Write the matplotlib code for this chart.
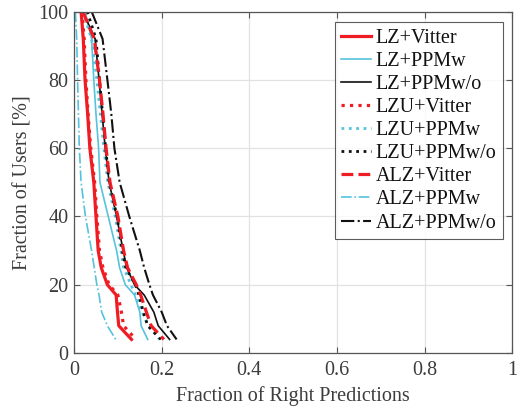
import matplotlib
matplotlib.use("Agg")
import matplotlib.pyplot as plt

plt.rcParams['font.family'] = ['Liberation Serif', 'DejaVu Serif']

# Fraction of users (%) at which each curve is sampled
users_pct = [100, 92, 80, 70, 60, 50, 40, 30, 25, 20, 17, 12, 8, 4]

# Fraction of right predictions for each scheme
lz_vitter = [0.016, 0.021, 0.025, 0.031, 0.036, 0.045, 0.050, 0.055, 0.062, 0.076, 0.096, 0.099, 0.102, 0.131]
lz_ppmw = [0.025, 0.040, 0.045, 0.050, 0.056, 0.059, 0.078, 0.097, 0.104, 0.117, 0.138, 0.150, 0.153, 0.168]
lz_ppmwo = [0.020, 0.048, 0.057, 0.064, 0.071, 0.080, 0.097, 0.112, 0.120, 0.138, 0.160, 0.182, 0.192, 0.218]
lzu_vitter = [0.018, 0.023, 0.027, 0.032, 0.038, 0.047, 0.052, 0.058, 0.066, 0.080, 0.100, 0.108, 0.113, 0.141]
lzu_ppmw = [0.020, 0.040, 0.052, 0.060, 0.068, 0.077, 0.094, 0.107, 0.113, 0.130, 0.140, 0.155, 0.170, 0.195]
lzu_ppmwo = [0.030, 0.050, 0.058, 0.065, 0.072, 0.080, 0.098, 0.110, 0.118, 0.140, 0.148, 0.158, 0.168, 0.198]
alz_vitter = [0.020, 0.046, 0.058, 0.066, 0.073, 0.082, 0.100, 0.113, 0.122, 0.142, 0.152, 0.165, 0.176, 0.205]
alz_ppmw = [0.003, 0.006, 0.008, 0.010, 0.012, 0.016, 0.026, 0.040, 0.046, 0.052, 0.057, 0.063, 0.076, 0.095]
alz_ppmwo = [0.040, 0.065, 0.076, 0.085, 0.092, 0.104, 0.126, 0.150, 0.160, 0.172, 0.180, 0.200, 0.212, 0.234]

labels = ['LZ+Vitter', 'LZ+PPMw', 'LZ+PPMw/o',
          'LZU+Vitter', 'LZU+PPMw', 'LZU+PPMw/o',
          'ALZ+Vitter', 'ALZ+PPMw', 'ALZ+PPMw/o']
x_ticks = [0, 0.2, 0.4, 0.6, 0.8, 1]
x_tick_labels = ['0', '0.2', '0.4', '0.6', '0.8', '1']
y_ticks = [0, 20, 40, 60, 80, 100]

RED = '#f01c24'
CYAN = '#55c3dd'
BLACK = '#111111'
TXT = '#3c3c3c'
FS = 14.5

series = [lz_vitter, lz_ppmw, lz_ppmwo, lzu_vitter, lzu_ppmw, lzu_ppmwo,
          alz_vitter, alz_ppmw, alz_ppmwo]
styles = [
    dict(color=RED, ls='-', lw=2.3),
    dict(color=CYAN, ls='-', lw=1.2),
    dict(color=BLACK, ls='-', lw=1.2),
    dict(color=RED, ls=':', lw=2.3),
    dict(color=CYAN, ls=':', lw=2.0),
    dict(color=BLACK, ls=':', lw=2.0),
    dict(color=RED, ls='--', lw=2.3),
    dict(color=CYAN, ls='-.', lw=1.2),
    dict(color=BLACK, ls='-.', lw=1.5),
]

fig = plt.figure(figsize=(5.18, 4.12), dpi=100)
ax = fig.add_axes([0.143, 0.143, 0.846, 0.829])

for xs, st, lab in zip(series, styles, labels):
    ax.plot(xs, users_pct, label=lab, **st)

ax.set_xlim(0, 1)
ax.set_ylim(0, 100)
ax.set_xticks(x_ticks)
ax.set_xticklabels(x_tick_labels)
ax.set_yticks(y_ticks)
ax.grid(True, color='#e2e2e2', lw=0.9)
ax.set_axisbelow(True)
ax.tick_params(direction='in', length=4, width=0.8, top=True, right=True,
               colors='#555555', labelcolor=TXT, labelsize=FS)
ax.tick_params(axis='x', pad=6)
ax.tick_params(axis='y', pad=4)
for sp in ax.spines.values():
    sp.set_color('#555555')
    sp.set_linewidth(0.9)

ax.set_xlabel('Fraction of Right Predictions', fontsize=FS, color=TXT, labelpad=4)
ax.set_ylabel('Fraction of Users [%]', fontsize=FS, color=TXT, labelpad=4)

leg = ax.legend(loc='upper right', bbox_to_anchor=(0.978, 0.968), fontsize=FS,
                frameon=True, fancybox=False, edgecolor='#333333',
                handlelength=1.5, handletextpad=0.25, labelspacing=0.2,
                borderpad=0.3, borderaxespad=0.0)
leg.get_frame().set_linewidth(0.8)
for t in leg.get_texts():
    t.set_color('#111111')

fig.savefig('out.png', dpi=100)
